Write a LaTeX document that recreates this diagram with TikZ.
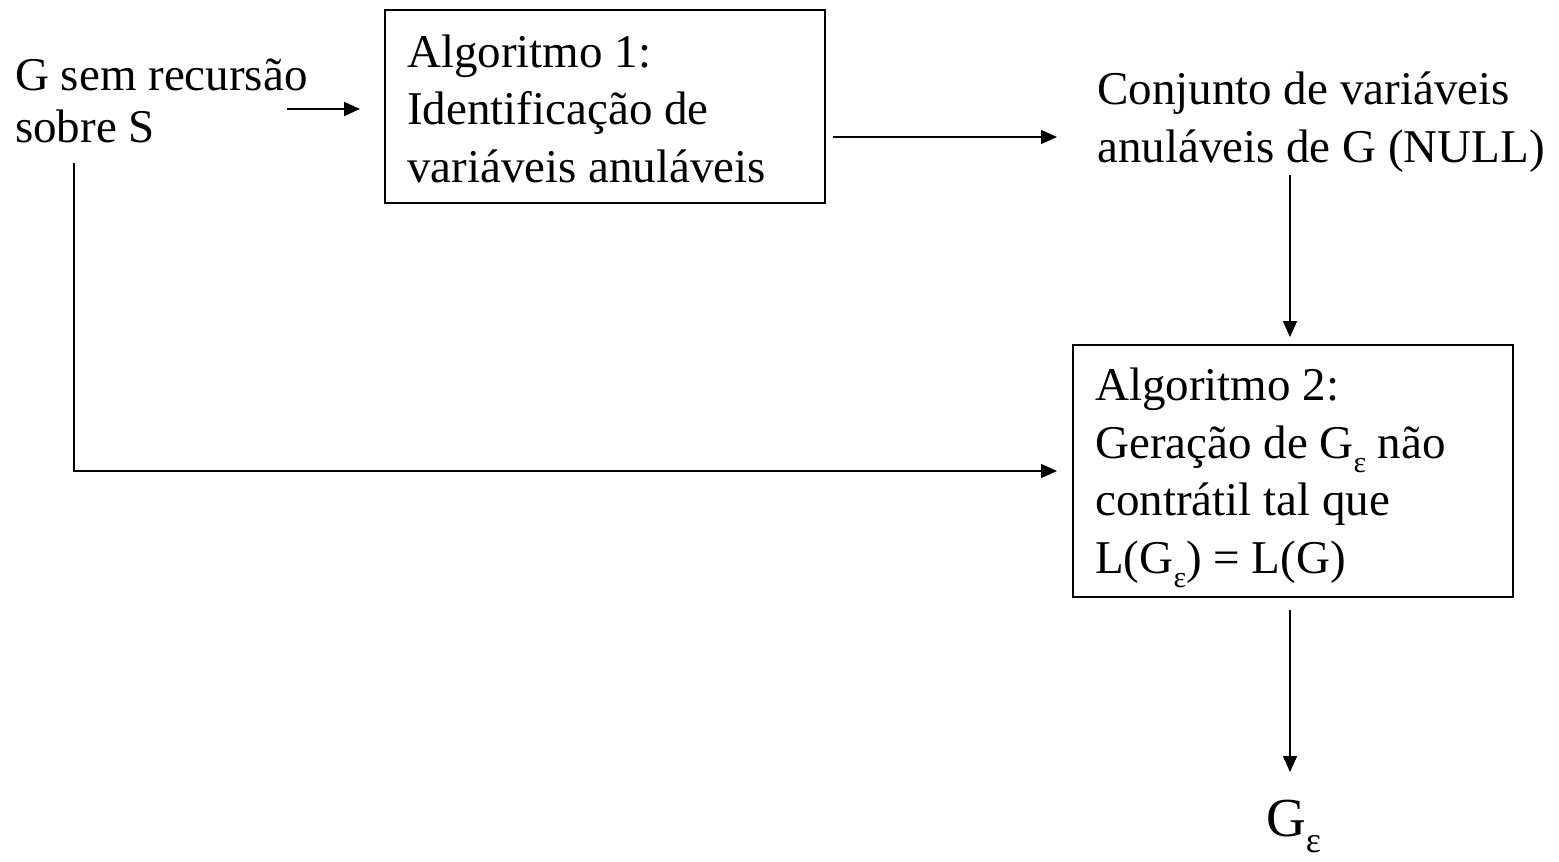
\documentclass[tikz,border=0pt]{standalone}
\usepackage{fontspec}
\setmainfont{Liberation Serif}
\usetikzlibrary{arrows.meta}
\newcommand{\epsub}{\smash{\raisebox{-14pt}{\fontsize{30}{30}\selectfont ε}}}
\newcommand{\epsubbig}{\smash{\raisebox{-16pt}{\fontsize{36}{36}\selectfont ε}}}
\tikzset{
  txt/.style={anchor=base west, inner sep=0pt, align=left, font=\fontsize{47}{57.5}\selectfont},
  boxshape/.style={draw, line width=1.7pt, inner sep=0pt},
  arr/.style={line width=1.7pt, -{Triangle[length=16pt, width=14pt]}},
}
\begin{document}
\begin{tikzpicture}[x=1pt, y=-1pt]
\useasboundingbox (0,0) rectangle (1559,862);
% text blocks (base anchor = baseline of the last line)
\node[txt, font=\fontsize{47}{52}\selectfont] (g) at (15,142) {G sem recursão\\sobre S};
\node[boxshape, minimum width=440pt, minimum height=193pt] (alg1) at (605,106.5) {};
\node[txt] (alg1t) at (407,182) {Algoritmo 1:\\Identificação de\\variáveis anuláveis};
\node[txt] (null) at (1097,162) {Conjunto de variáveis\\anuláveis de G (NULL)};
\node[boxshape, minimum width=440pt, minimum height=252pt] (alg2) at (1293,471) {};
\node[txt] (alg2t) at (1095,573) {Algoritmo 2:\\Geração de G\epsub{} não\\contrátil tal que\\L(G\epsub) = L(G)};
\node[anchor=base west, inner sep=0pt, font=\fontsize{55}{60}\selectfont] (ge) at (1266,836) {G\epsubbig};
% connector end points
\coordinate (a1s) at (287,109);
\coordinate (a1e) at (360,109);
\coordinate (a2s) at (833,137);
\coordinate (a2e) at (1057,137);
\coordinate (a3s) at (1290,175);
\coordinate (a3e) at (1290,337);
\coordinate (l1s) at (74,163);
\coordinate (l1c) at (74,471);
\coordinate (l1e) at (1057,471);
\coordinate (a4s) at (1290,610);
\coordinate (a4e) at (1290,772);
% connectors
\draw[arr] (a1s) -- (a1e);
\draw[arr] (a2s) -- (a2e);
\draw[arr] (a3s) -- (a3e);
\draw[arr] (l1s) -- (l1c) -- (l1e);
\draw[arr] (a4s) -- (a4e);
\end{tikzpicture}
\end{document}
